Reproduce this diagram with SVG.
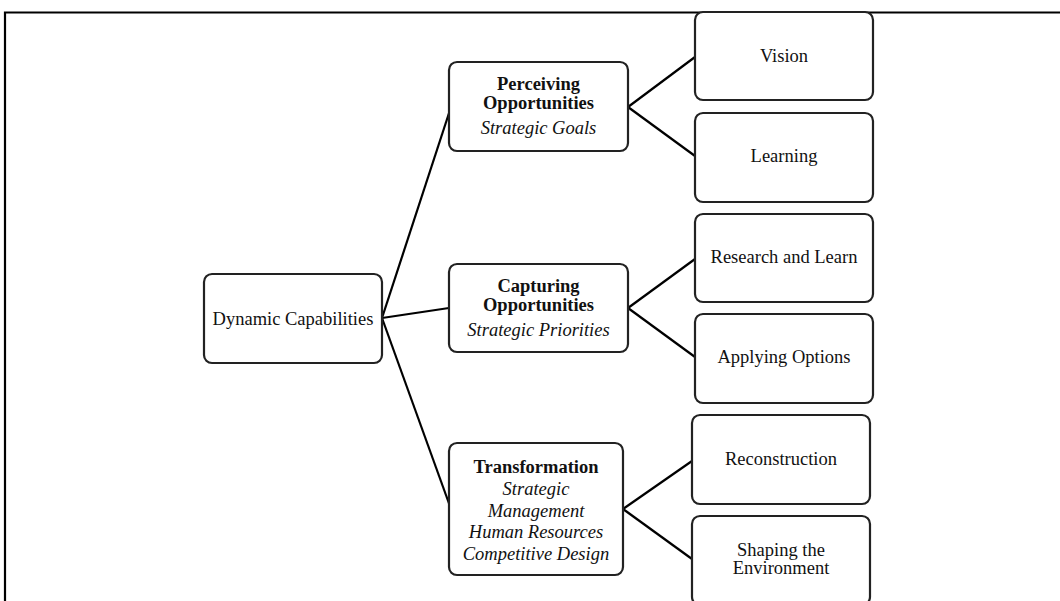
<svg xmlns="http://www.w3.org/2000/svg" width="1060" height="601" viewBox="0 0 1060 601">
<style>
.box{fill:#fff;stroke:#222;stroke-width:2.2}
.t{font-family:"Liberation Serif","Times New Roman",serif;font-size:18.5px;fill:#111;text-anchor:middle}
.b{font-weight:bold}
.i{font-style:italic}
.c{stroke:#000;stroke-width:2.2;fill:none}
</style>
<rect x="0" y="0" width="1060" height="601" fill="#fff"/>
<path d="M5,601 V12.5 H1060" fill="none" stroke="#000" stroke-width="2.2"/>
<g id="connectors">
<line class="c" x1="382" y1="318" x2="451" y2="107"/>
<line class="c" x1="382" y1="318" x2="449" y2="308"/>
<line class="c" x1="382" y1="318" x2="451" y2="509"/>
<line class="c" x1="628" y1="107" x2="695" y2="57"/>
<line class="c" x1="628" y1="107" x2="695" y2="156"/>
<line class="c" x1="628" y1="308" x2="695" y2="259"/>
<line class="c" x1="628" y1="308" x2="695" y2="357"/>
<line class="c" x1="623" y1="509" x2="692" y2="461"/>
<line class="c" x1="623" y1="509" x2="692" y2="559"/>
</g>
<g id="dynamic">
<rect class="box" x="204" y="274" width="178" height="89" rx="8"/>
<text class="t" x="293" y="325">Dynamic Capabilities</text>
</g>
<g id="perceiving">
<rect class="box" x="449" y="62" width="179" height="89" rx="8"/>
<text class="t b" x="538.5" y="90">Perceiving</text>
<text class="t b" x="538.5" y="109">Opportunities</text>
<text class="t i" x="538.5" y="134">Strategic Goals</text>
</g>
<g id="capturing">
<rect class="box" x="449" y="264" width="179" height="88" rx="8"/>
<text class="t b" x="538.5" y="292">Capturing</text>
<text class="t b" x="538.5" y="311">Opportunities</text>
<text class="t i" x="538.5" y="336">Strategic Priorities</text>
</g>
<g id="transformation">
<rect class="box" x="449" y="443" width="174" height="132" rx="8"/>
<text class="t b" x="536" y="473">Transformation</text>
<text class="t i" x="536" y="495">Strategic</text>
<text class="t i" x="536" y="516.5">Management</text>
<text class="t i" x="536" y="538">Human Resources</text>
<text class="t i" x="536" y="560">Competitive Design</text>
</g>
<g id="vision">
<rect class="box" x="695" y="12" width="178" height="88" rx="8"/>
<text class="t" x="784" y="62">Vision</text>
</g>
<g id="learning">
<rect class="box" x="695" y="113" width="178" height="89" rx="8"/>
<text class="t" x="784" y="162">Learning</text>
</g>
<g id="research">
<rect class="box" x="695" y="214" width="178" height="88" rx="8"/>
<text class="t" x="784" y="263">Research and Learn</text>
</g>
<g id="applying">
<rect class="box" x="695" y="314" width="178" height="89" rx="8"/>
<text class="t" x="784" y="363">Applying Options</text>
</g>
<g id="reconstruction">
<rect class="box" x="692" y="415" width="178" height="89" rx="8"/>
<text class="t" x="781" y="465">Reconstruction</text>
</g>
<g id="shaping">
<rect class="box" x="692" y="516" width="178" height="89" rx="8"/>
<text class="t" x="781" y="556">Shaping the</text>
<text class="t" x="781" y="574">Environment</text>
</g>
</svg>
